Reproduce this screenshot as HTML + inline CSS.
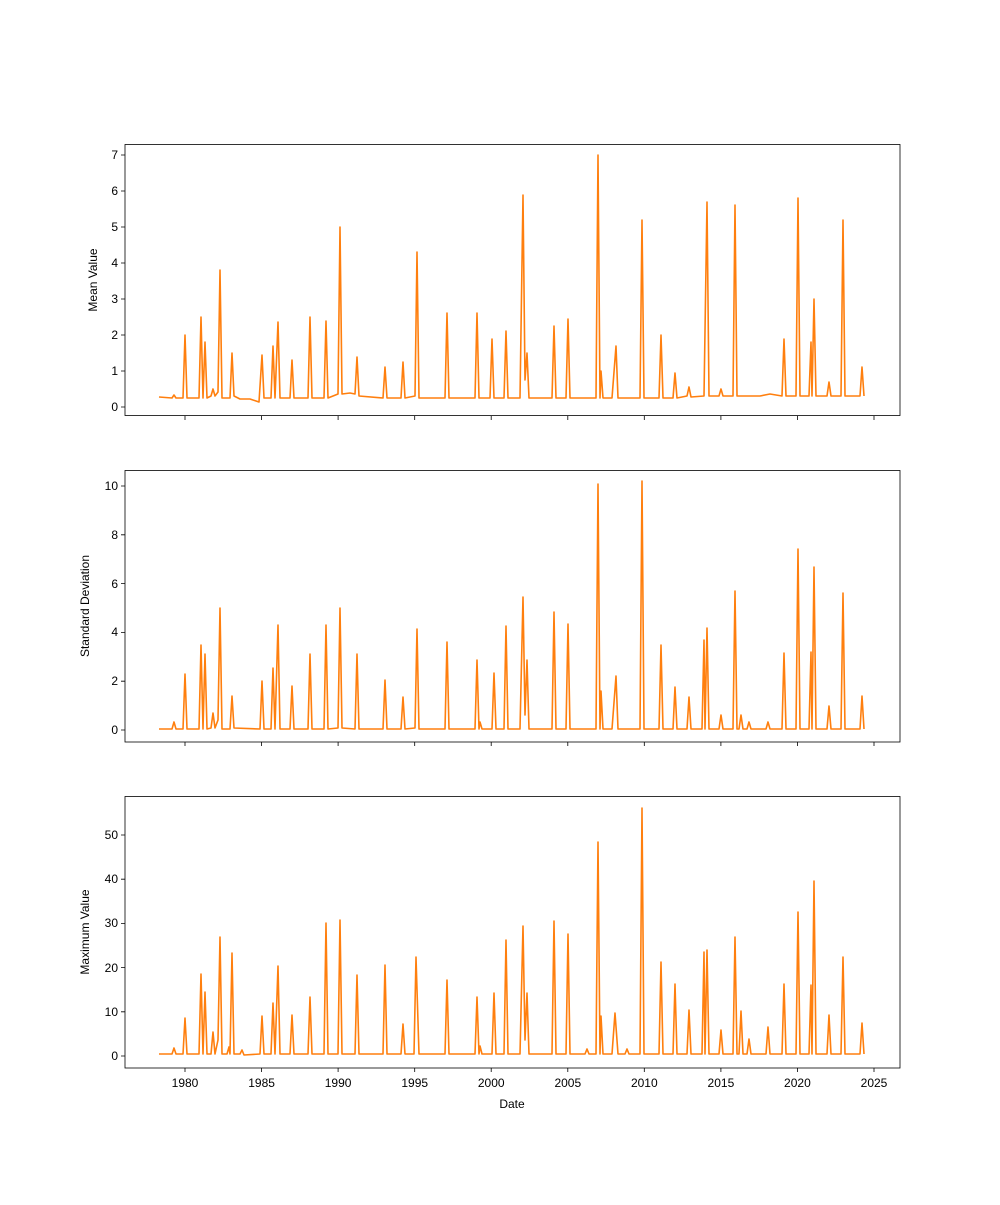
<!DOCTYPE html>
<html><head><meta charset="utf-8"><style>
body{margin:0;background:#fff}
svg text{font-family:"Liberation Sans","DejaVu Sans",sans-serif;font-size:12px;fill:#000}
</style></head><body>
<svg width="1000" height="1200" xmlns="http://www.w3.org/2000/svg">
<rect width="1000" height="1200" fill="#fff"/>
<g fill="none" stroke="#ff7f0e" stroke-width="1.6" stroke-linejoin="round">
<path d="M159,397 L172,398 L174,395 L176,398 L183,398 L185,335 L187,398 L199,398 L201,317 L203,398 L205,342 L207,398 L211,396 L213,389 L215,396 L218,392 L220,270 L222,398 L230,398 L232,353 L234,396 L240,399 L250,399 L256,401 L259,402 L262,355 L264,398 L271,398 L273,346 L275,398 L278,322 L280,398 L290,398 L292,360 L294,398 L308,398 L310,317 L312,398 L324,398 L326,321 L328,398 L338,394 L340,227 L342,394 L350,393 L355,394 L357,357 L359,396 L383,398 L385,367 L387,398 L401,398 L403,362 L405,398 L415,396 L417,252 L419,398 L445,398 L447,313 L449,398 L475,398 L477,313 L479,398 L490,398 L492,339 L494,398 L504,398 L506,331 L508,398 L520,398 L523,195 L525,380 L527,353 L529,398 L552,398 L554,326 L556,398 L566,398 L568,319 L570,398 L596,398 L598,155 L600,398 L601,371 L603,398 L612,398 L616,346 L618,398 L640,398 L642,220 L644,398 L659,398 L661,335 L663,398 L673,398 L675,373 L677,398 L687,396 L689,387 L691,397 L704,396 L707,202 L709,396 L719,396 L721,389 L723,396 L733,396 L735,205 L737,396 L760,396 L770,394 L782,396 L784,339 L786,396 L796,396 L798,198 L800,396 L809,396 L811,342 L812,396 L814,299 L816,396 L827,396 L829,382 L831,396 L841,396 L843,220 L845,396 L860,396 L862,367 L864,396"/>
<path d="M159,729 L172,729 L174,722 L176,729 L183,729 L185,674 L187,729 L199,729 L201,645 L203,729 L205,654 L207,729 L211,728 L213,713 L215,728 L218,720 L220,608 L222,729 L230,729 L232,696 L234,728 L260,729 L262,681 L264,729 L271,729 L273,668 L275,729 L278,625 L280,729 L290,729 L292,686 L294,729 L308,729 L310,654 L312,729 L324,729 L326,625 L328,729 L338,728 L340,608 L342,728 L355,729 L357,654 L359,729 L383,729 L385,680 L387,729 L401,729 L403,697 L405,729 L415,728 L417,629 L419,729 L445,729 L447,642 L449,729 L475,729 L477,660 L479,729 L480,722 L482,729 L492,729 L494,673 L496,729 L504,729 L506,626 L508,729 L520,729 L523,597 L525,715 L527,660 L529,729 L552,729 L554,612 L556,729 L566,729 L568,624 L570,729 L596,729 L598,484 L600,729 L601,691 L603,729 L612,729 L616,676 L618,729 L640,729 L642,481 L644,729 L659,729 L661,645 L663,729 L673,729 L675,687 L677,729 L687,729 L689,697 L691,729 L702,729 L704,640 L705,729 L707,628 L709,729 L719,729 L721,715 L723,729 L733,729 L735,591 L737,729 L739,729 L741,715 L743,729 L747,729 L749,722 L751,729 L766,729 L768,722 L770,729 L782,729 L784,653 L786,729 L796,729 L798,549 L800,729 L809,729 L811,652 L812,729 L814,567 L816,729 L827,729 L829,706 L831,729 L841,729 L843,593 L845,729 L860,729 L862,696 L864,729"/>
<path d="M159,1054 L172,1054 L174,1048 L176,1054 L183,1054 L185,1018 L187,1054 L199,1054 L201,974 L203,1054 L205,992 L207,1054 L211,1054 L213,1032 L215,1054 L218,1040 L220,937 L222,1054 L227,1054 L229,1047 L230,1054 L232,953 L234,1054 L240,1054 L242,1050 L244,1055 L260,1054 L262,1016 L264,1054 L271,1054 L273,1003 L275,1054 L278,966 L280,1054 L290,1054 L292,1015 L294,1054 L308,1054 L310,997 L312,1054 L324,1054 L326,923 L328,1054 L338,1054 L340,920 L342,1054 L355,1054 L357,975 L359,1054 L383,1054 L385,965 L387,1054 L401,1054 L403,1024 L405,1054 L414,1054 L416,957 L419,1054 L445,1054 L447,980 L449,1054 L475,1054 L477,997 L479,1054 L480,1046 L482,1054 L492,1054 L494,993 L496,1054 L504,1054 L506,940 L508,1054 L520,1054 L523,926 L525,1040 L527,993 L529,1054 L552,1054 L554,921 L556,1054 L566,1054 L568,934 L570,1054 L585,1054 L587,1049 L589,1054 L596,1054 L598,842 L600,1054 L601,1016 L603,1054 L612,1054 L615,1013 L618,1054 L625,1054 L627,1049 L629,1054 L640,1054 L642,808 L644,1054 L659,1054 L661,962 L663,1054 L673,1054 L675,984 L677,1054 L687,1054 L689,1010 L691,1054 L702,1054 L704,952 L705,1054 L707,950 L709,1054 L719,1054 L721,1030 L723,1054 L733,1054 L735,937 L737,1054 L739,1054 L741,1011 L743,1054 L747,1054 L749,1039 L751,1054 L766,1054 L768,1027 L770,1054 L782,1054 L784,984 L786,1054 L796,1054 L798,912 L800,1054 L809,1054 L811,985 L812,1054 L814,881 L816,1054 L827,1054 L829,1015 L831,1054 L841,1054 L843,957 L845,1054 L860,1054 L862,1023 L864,1054"/>
</g>
<g fill="none" stroke="#000" stroke-width="0.8">
<rect x="125" y="144.5" width="775" height="271"/>
<rect x="125" y="470.5" width="775" height="271.5"/>
<rect x="125" y="796.5" width="775" height="271.5"/>
<path d="M185,416v4M261.6,416v4M338.1,416v4M414.7,416v4M491.2,416v4M567.8,416v4M644.3,416v4M720.9,416v4M797.4,416v4M874,416v4
M185,742v4M261.6,742v4M338.1,742v4M414.7,742v4M491.2,742v4M567.8,742v4M644.3,742v4M720.9,742v4M797.4,742v4M874,742v4
M185,1068v4M261.6,1068v4M338.1,1068v4M414.7,1068v4M491.2,1068v4M567.8,1068v4M644.3,1068v4M720.9,1068v4M797.4,1068v4M874,1068v4
M125,407h-4M125,371h-4M125,335h-4M125,299h-4M125,263h-4M125,227h-4M125,191h-4M125,155h-4
M125,730h-4M125,681.2h-4M125,632.4h-4M125,583.6h-4M125,534.8h-4M125,486h-4
M125,1056h-4M125,1011.8h-4M125,967.6h-4M125,923.4h-4M125,879.2h-4M125,835h-4"/>
</g>
<g text-anchor="end">
<text x="118" y="411">0</text><text x="118" y="375">1</text><text x="118" y="339">2</text><text x="118" y="303">3</text><text x="118" y="267">4</text><text x="118" y="231">5</text><text x="118" y="195">6</text><text x="118" y="159">7</text>
<text x="118" y="734">0</text><text x="118" y="685">2</text><text x="118" y="636">4</text><text x="118" y="588">6</text><text x="118" y="539">8</text><text x="118" y="490">10</text>
<text x="118" y="1060">0</text><text x="118" y="1016">10</text><text x="118" y="972">20</text><text x="118" y="927">30</text><text x="118" y="883">40</text><text x="118" y="839">50</text>
</g>
<g text-anchor="middle">
<text x="185" y="1087">1980</text><text x="261.6" y="1087">1985</text><text x="338.1" y="1087">1990</text><text x="414.7" y="1087">1995</text><text x="491.2" y="1087">2000</text><text x="567.8" y="1087">2005</text><text x="644.3" y="1087">2010</text><text x="720.9" y="1087">2015</text><text x="797.4" y="1087">2020</text><text x="874" y="1087">2025</text>
<text x="512" y="1108">Date</text>
<text transform="translate(97,280) rotate(-90)">Mean Value</text>
<text transform="translate(89,606) rotate(-90)">Standard Deviation</text>
<text transform="translate(89,932) rotate(-90)">Maximum Value</text>
</g>
</svg>
</body></html>
